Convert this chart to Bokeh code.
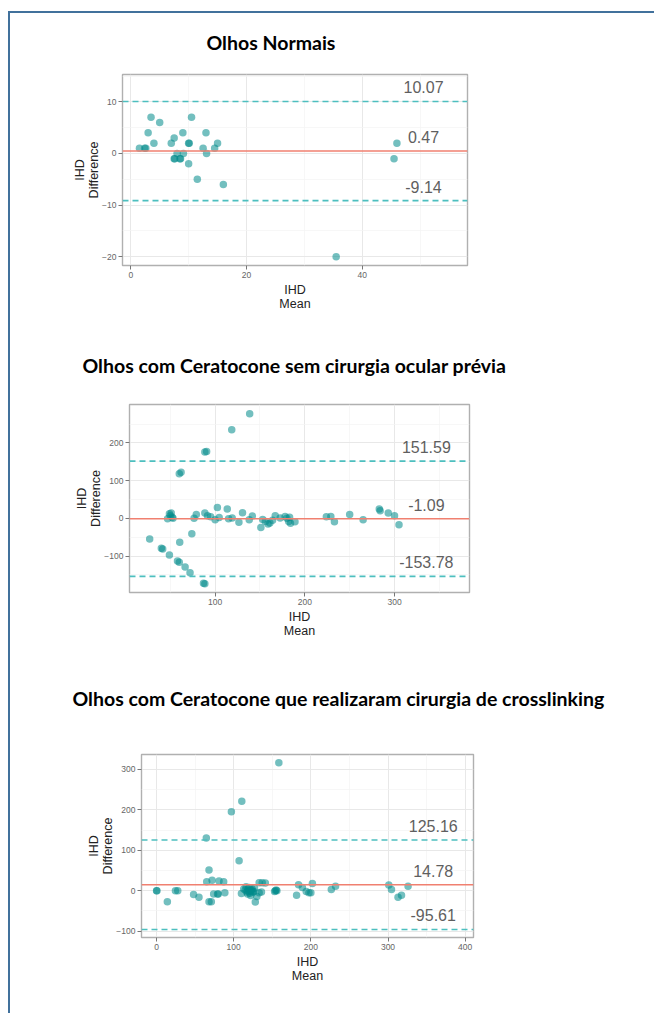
from bokeh.plotting import figure
from bokeh.layouts import column
from bokeh.models import FixedTicker, Span, ColumnDataSource, Range1d
from bokeh.core.properties import value
from bokeh.embed import file_html
from bokeh.resources import INLINE

# ---------------- data ----------------
title1 = "Olhos Normais"
title2 = "Olhos com Ceratocone sem cirurgia ocular prévia"
title3 = "Olhos com Ceratocone que realizaram cirurgia de crosslinking"

x_label = "IHD\nMean"
y_label = "IHD\nDifference"

# Plot 1: normal eyes
mean1 = [1.5, 2.4, 2.6, 3.0, 3.5, 4.0, 5.0, 7.0, 7.5, 7.5, 7.6, 8.0, 8.5, 8.6, 9.0,
         9.1, 10.0, 10.1, 10.0, 10.5, 11.5, 12.5, 13.0, 13.1, 14.5, 15.0, 16.0, 35.5, 45.5, 46.0]
diff1 = [1, 1, 1, 4, 7, 2, 6, 2, 3, -1, -1, 0, -1, -1, 4,
         0, 2, 2, -2, 7, -5, 1, 4, 0, 1, 2, -6, -20, -1, 2]
lines1 = [10.07, 0.47, -9.14]
labels1 = ["10.07", "0.47", "-9.14"]

# Plot 2: keratoconus without previous surgery
mean2 = [27, 40, 41.5, 49, 58, 60, 66.5, 72, 87, 88.5, 60.5, 74, 60, 62, 88.5, 90.5, 118.5, 138.5,
         47, 49, 51, 52, 53, 50,
         76.5, 79, 88.5, 91.5, 95, 100, 102.5, 104.5, 113.5, 115, 119, 126.5, 130.5, 138, 141.5,
         151, 153, 156, 159, 161, 164, 167, 172.5, 178, 180, 182, 183, 184, 189,
         224, 229, 233, 250, 265, 283, 284, 293, 300, 305]
diff2 = [-55, -79, -81, -97, -113, -116, -129, -144, -172, -173, -63, -41, 118, 122, 176, 177, 235, 277,
         -1, 12, 14, 3, 0, 7,
         0, 10, 14, 7, 4, -4, 29, 2, 25, -1, 1, -10, 15, -4, 6,
         -24, -3, -8, -15, -12, -5, 7, 1, 5, 0, -8, 3, -13, -9,
         4, 5, -9, 10, -4, 25, 20, 14, 7, -17]
lines2 = [151.59, -1.09, -153.78]
labels2 = ["151.59", "-1.09", "-153.78"]

# Plot 3: keratoconus after crosslinking
mean3 = [0, 0.5, 14, 24.5, 27.5, 48, 55, 64.5, 65, 68, 68, 71, 72, 74, 79, 80, 81, 87, 88.5,
         97, 107, 110.5, 110, 113, 116, 118, 120, 122, 122, 124, 126, 128, 130, 133, 133, 136,
         137, 141, 154, 156, 158.5, 181.5, 184, 189, 194, 197.5, 200, 202, 226.5, 232,
         301, 304.5, 313, 317.5, 326,
         115, 117, 119, 121, 123, 125, 127, 118, 120, 124, 155, 153]
diff3 = [0, 0, -27, 0, 0, -9, -16, 130, 22, 51, -27, -27, 26, -8, -8, -8, 24, 22, -5,
         195, 74, 221, -7, 4, 10, -8, 8, -12, 0, 4, -2, -28, -14, -5, 20, -3,
         20, 19, 0, 0, 316, -11, 15, 8, -2, -5, -5, 18, 3, 11,
         14, 3, -16, -11, 11,
         2, -3, 5, -6, 2, -4, 6, 0, -2, -1, 2, -2]
lines3 = [125.16, 14.78, -95.61]
labels3 = ["125.16", "14.78", "-95.61"]

# ---------------- styling ----------------
POINT = "#008b8b"
DASH = "#4dbfbf"
RED = "#f08070"
FONT = "Liberation Sans"
TITLE_FONT = "Lato"
W = 644


def title_fig(text, height, tx, ty):
    t = figure(width=W, height=height, x_range=Range1d(0, W), y_range=Range1d(0, height),
               output_backend="svg", toolbar_location=None,
               x_axis_type=None, y_axis_type=None,
               min_border_left=0, min_border_right=0, min_border_top=0, min_border_bottom=0)
    t.frame_align = False
    t.grid.visible = False
    t.outline_line_color = None
    t.background_fill_color = "white"
    t.border_fill_color = "white"
    t.text(x=[tx], y=[ty], text=[text], text_align="left", text_baseline="middle",
           text_font=value(TITLE_FONT), text_font_style="bold",
           text_font_size="19.5px", text_color="#000000")
    return t


def panel(mean, diff, lines, labels, xr, yr, xt, xm, yt, ym,
          height, left, right, top, bottom):
    p = figure(width=W, height=height, x_range=Range1d(*xr), y_range=Range1d(*yr),
               output_backend="svg", toolbar_location=None,
               min_border_left=left, min_border_right=right,
               min_border_top=top, min_border_bottom=bottom)
    p.frame_align = False
    p.background_fill_color = "white"
    p.border_fill_color = "white"
    p.outline_line_color = "#b0b0b0"
    p.outline_line_width = 1.4

    p.xaxis.ticker = FixedTicker(ticks=xt, minor_ticks=xm)
    p.yaxis.ticker = FixedTicker(ticks=yt, minor_ticks=ym)
    for ax in (p.xaxis, p.yaxis):
        ax.axis_line_color = None
        ax.major_tick_line_color = "#777777"
        ax.major_tick_in = 0
        ax.major_tick_out = 4
        ax.minor_tick_line_color = None
        ax.major_label_text_font = FONT
        ax.major_label_text_font_size = "8.5px"
        ax.major_label_text_color = "#666666"
        ax.major_label_standoff = 2
        ax.axis_label_text_font = FONT
        ax.axis_label_text_font_size = "12.5px"
        ax.axis_label_text_font_style = "normal"
        ax.axis_label_text_color = "#222222"
        ax.axis_label_text_line_height = 1.0
        ax.axis_label_standoff = 2
    p.yaxis.axis_label_standoff = -2
    p.xaxis.axis_label = x_label
    p.yaxis.axis_label = y_label

    p.grid.grid_line_color = "#e8e8e8"
    p.grid.grid_line_width = 1
    p.grid.minor_grid_line_color = "#f3f3f3"
    p.grid.minor_grid_line_width = 0.7

    upper, bias, lower = lines
    p.add_layout(Span(location=upper, dimension="width", line_color=DASH,
                      line_width=1.6, line_dash="6 4"))
    p.add_layout(Span(location=lower, dimension="width", line_color=DASH,
                      line_width=1.6, line_dash="6 4"))
    p.add_layout(Span(location=bias, dimension="width", line_color=RED,
                      line_width=1.6))

    src = ColumnDataSource(dict(x=mean, y=diff))
    p.scatter("x", "y", source=src, size=7.5, fill_color=POINT, fill_alpha=0.55,
              line_color=None)

    xl = 1.1 * max(mean)
    lsrc = ColumnDataSource(dict(x=[xl] * 3, y=lines, t=labels))
    p.text("x", "y", text="t", source=lsrc, text_align="center",
           text_baseline="middle", y_offset=-14,
           text_font=value(FONT), text_font_size="16px", text_color="#5f5f5f")
    return p


t1 = title_fig(title1, 47, 196, 18)
p1 = panel(mean1, diff1, lines1, labels1,
           (-1.43, 58.2), (-21.7, 15.3),
           [0, 20, 40], [10, 30, 50], [-20, -10, 0, 10], [-15, -5, 5, 15],
           275, 112, 187, 14, 70)
t2 = title_fig(title2, 50, 72, 20)
p2 = panel(mean2, diff2, lines2, labels2,
           (4.5, 383.6), (-196.5, 301.8),
           [100, 200, 300], [50, 150, 250, 350], [-100, 0, 100, 200], [-150, -50, 50, 150, 250],
           280, 119, 185, 19, 73)
t3 = title_fig(title3, 65, 62, 32)
p3 = panel(mean3, diff3, lines3, labels3,
           (-19.5, 410.8), (-115.5, 336.5),
           [0, 100, 200, 300, 400], [50, 150, 250, 350], [-100, 0, 100, 200, 300], [-50, 50, 150, 250],
           273, 131, 181, 24, 66)

root = column(t1, p1, t2, p2, t3, p3, spacing=0,
              styles={"border-top": "2px solid #41719c",
                      "border-left": "2px solid #41719c",
                      "margin-top": "11px", "margin-left": "8px",
                      "padding-bottom": "10px"})

open("out.html", "w").write(file_html(root, INLINE))
